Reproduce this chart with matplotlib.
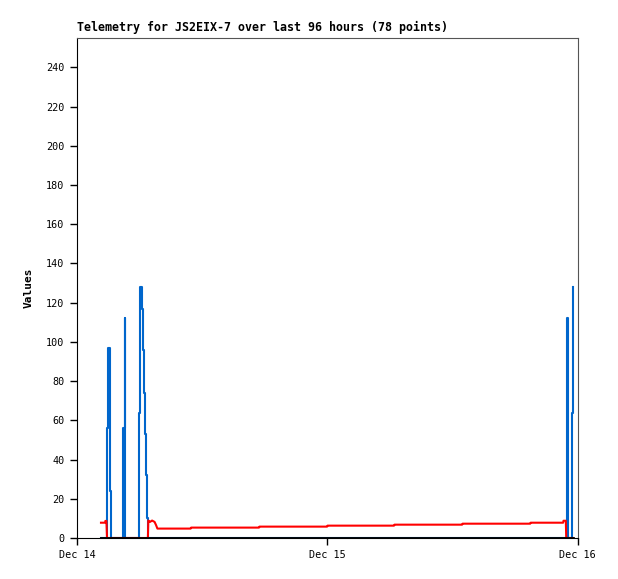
import numpy as np
import pandas as pd
import matplotlib
matplotlib.use("Agg")
import matplotlib.pyplot as plt
import matplotlib.dates as mdates

# hours after Dec 14 00:00
hours = [2.30, 2.70, 2.72, 2.82, 2.88, 2.91, 3.02, 3.12, 3.20, 3.26,
         4.40, 4.45, 4.58, 4.64,
         5.90, 5.95, 6.08, 6.21, 6.30, 6.40, 6.53, 6.65, 6.75, 6.80,
         6.84, 7.00, 7.20, 7.44, 7.58, 7.71,
         10.90, 10.95, 17.45, 17.50, 23.98, 24.03, 30.40, 30.45,
         36.93, 36.98, 43.46, 43.51, 46.62, 46.66, 46.88, 46.92,
         46.95, 47.05, 47.12, 47.42, 47.46, 47.55]
red = [7.8, 7.8, 8.7, 8.7, 0, 0, 0, 0, 0, 0,
       0, 0, 0, 0,
       0, 0, 0, 0, 0, 0, 0, 0, 0, 0,
       8.9, 8.2, 8.9, 8.2, 6.6, 4.8,
       4.8, 5.3, 5.3, 5.8, 5.8, 6.3, 6.3, 6.8,
       6.8, 7.3, 7.3, 7.8, 7.8, 8.8, 8.8, 0,
       0, 0, 0, 0, 0, 0]
blue = [0, 0, 0, 0, 0, 56, 97, 72, 24, 0,
        0, 56, 112, 0,
        0, 64, 128, 117, 96, 74, 53, 32, 10, 0,
        0, 0, 0, 0, 0, 0,
        0, 0, 0, 0, 0, 0, 0, 0,
        0, 0, 0, 0, 0, 0, 0, 0,
        112, 56, 0, 0, 64, 128]
black = [0] * len(hours)

start = pd.Timestamp("2023-12-14")
t = start + pd.to_timedelta(hours, unit="h")

fig = plt.figure(figsize=(6.18, 5.79), dpi=100)
ax = fig.add_axes([77 / 618, 1 - 538 / 579, 500.5 / 618, 500 / 579])

ax.plot(t, blue, color="#0066cc", lw=1.5, drawstyle="steps-post")
ax.plot(t, red, color="#ff0000", lw=1.5)
ax.plot(t, black, color="black", lw=2.0)

ax.set_xlim(start, start + pd.Timedelta(days=2))
ax.set_ylim(0, 255)
ax.set_yticks(np.arange(0, 241, 20))
ax.xaxis.set_major_locator(mdates.DayLocator())
ax.xaxis.set_major_formatter(mdates.DateFormatter("%b %d"))

mono = "DejaVu Sans Mono"
ax.tick_params(direction="out", length=5, width=1, labelsize=7.3, pad=4)
for lab in ax.get_xticklabels() + ax.get_yticklabels():
    lab.set_family(mono)
for s in ["top", "right"]:
    ax.spines[s].set_color("#555555")
ax.set_ylabel("Values", family=mono, fontweight="bold", fontsize=8, labelpad=9)
ax.text(0, 1.008, "Telemetry for JS2EIX-7 over last 96 hours (78 points)",
        transform=ax.transAxes, family=mono, fontweight="bold", fontsize=8.4,
        ha="left", va="bottom")

fig.savefig("out.png", dpi=100)
